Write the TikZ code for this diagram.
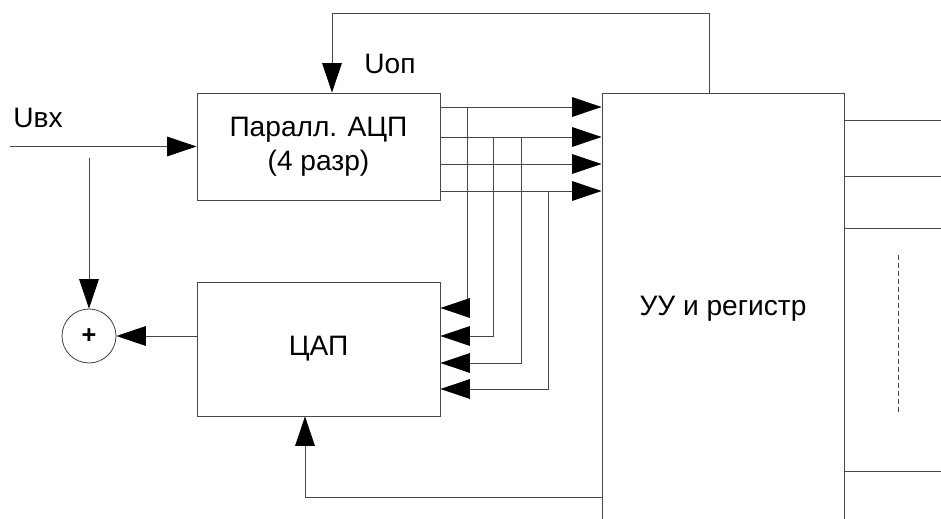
\documentclass[tikz,border=0pt]{standalone}
\usepackage{fontspec}
\setmainfont{Liberation Sans}
\usetikzlibrary{arrows.meta,positioning,calc}
\definecolor{wirecolor}{RGB}{70,70,70}

\begin{document}
\begin{tikzpicture}[x=0.025cm, y=-0.025cm,
  block/.style={draw=wirecolor, line width=0.6pt, inner sep=0pt, align=center,
    font=\fontsize{20}{24}\selectfont},
  wire/.style={draw=wirecolor, line width=0.6pt},
  arr/.style={wire, -{Triangle[length=21pt,width=14pt,black]}},
  lbl/.style={font=\fontsize{20}{24}\selectfont}]

\useasboundingbox (0,0) rectangle (941,519);

% ---- Blocks ----
\node[block, minimum width=6.075cm, minimum height=2.675cm] (adc) at (318.5,146.5)
  {Паралл. АЦП\\(4 разр)};
\node[block, minimum width=6.075cm, minimum height=3.35cm] (dac) at (318.5,349) {ЦАП};
\node[block, minimum width=6.05cm, minimum height=10.8cm] (uu) at (723,309) {УУ и регистр};
\node[draw=wirecolor, line width=0.6pt, circle, minimum size=1.35cm, inner sep=0pt,
  font=\bfseries\fontsize{18}{18}\selectfont] (sum) at (89,336) {+};

% ---- Labels ----
\node[lbl] (uin) at (38,118) {Uвх};
\node[lbl] (uref) at (390,64) {Uоп};

% ---- Input and summing point ----
\coordinate (in) at (10,146.5);
\coordinate (split) at (89,158);
\draw[arr] (in) -- (in -| adc.west);
\draw[arr] (split) -- (sum.north);
\draw[arr] (dac.west |- sum) -- (sum.east);

% ---- Reference voltage from control unit ----
\coordinate (refR) at (709,13);
\coordinate (refL) at (332,13);
\draw[arr] (uu.north -| refR) -- (refR) -- (refL) -- (adc.north -| refL);

% ---- Feedback into DAC ----
\coordinate (fb) at (305,497);
\draw[arr] (fb -| uu.west) -- (fb) -- (dac.south -| fb);

% ---- ADC bits to control unit ----
\foreach \i/\y in {1/107,2/137,3/164,4/191} {
  \coordinate (b\i) at (0,\y);
  \draw[arr] (adc.east |- b\i) -- (uu.west |- b\i);
}

% ---- Taps down to DAC ----
\foreach \x/\j/\ye in {467/1/308,493/2/336,521/2/363,548/4/389} {
  \coordinate (t) at (\x,\ye);
  \draw[arr] (t |- b\j) -- (t) -- (t -| dac.east);
}

% ---- Register outputs ----
\foreach \y in {120,176,228,471} {
  \coordinate (o) at (941,\y);
  \draw[wire] (uu.east |- o) -- (o);
}
\coordinate (dotsT) at (898,255);
\coordinate (dotsB) at (898,415);
\draw[wire, dash pattern=on 3.5pt off 2.2pt] (dotsT) -- (dotsB);

\end{tikzpicture}
\end{document}
